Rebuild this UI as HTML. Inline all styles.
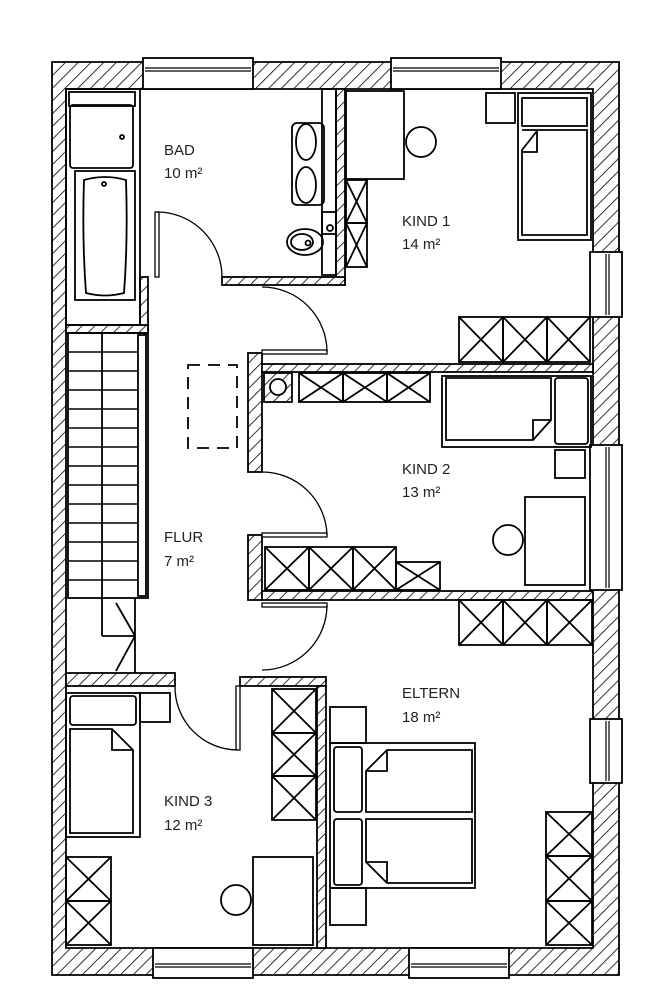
<!DOCTYPE html>
<html><head><meta charset="utf-8"><style>
html,body{margin:0;padding:0;background:#fff}
svg{display:block}
text{font-family:"Liberation Sans",sans-serif;font-size:15px;fill:#222}
</style></head><body>
<svg width="657" height="1000" viewBox="0 0 657 1000" xmlns="http://www.w3.org/2000/svg">
<defs>
<pattern id="h" patternUnits="userSpaceOnUse" width="9" height="9" patternTransform="rotate(45)">
<rect width="9" height="9" fill="#fff"/><line x1="0" y1="0" x2="0" y2="9" stroke="#000" stroke-width="1.6"/>
</pattern>
</defs>
<g stroke="#000" stroke-width="1.8" fill="none">
<!-- outer walls -->
<path fill="url(#h)" fill-rule="evenodd" d="M52 62H619V975H52Z M66 89V948H593V89Z"/>
<!-- windows top -->
<g fill="#fff">
<rect x="143" y="58" width="110" height="31"/><rect x="391" y="58" width="110" height="31"/>
<rect x="153" y="948" width="100" height="30"/><rect x="409" y="948" width="100" height="30"/>
<rect x="590" y="252" width="32" height="65"/><rect x="590" y="445" width="32" height="145"/><rect x="590" y="719" width="32" height="64"/>
</g>
<g stroke-width="1.2">
<line x1="145" y1="68" x2="251" y2="68"/><line x1="145" y1="71" x2="251" y2="71"/>
<line x1="393" y1="68" x2="499" y2="68"/><line x1="393" y1="71" x2="499" y2="71"/>
<line x1="155" y1="964" x2="251" y2="964"/><line x1="155" y1="967" x2="251" y2="967"/>
<line x1="411" y1="964" x2="507" y2="964"/><line x1="411" y1="967" x2="507" y2="967"/>
<line x1="606" y1="254" x2="606" y2="315"/><line x1="609" y1="254" x2="609" y2="315"/>
<line x1="606" y1="447" x2="606" y2="588"/><line x1="609" y1="447" x2="609" y2="588"/>
<line x1="606" y1="721" x2="606" y2="781"/><line x1="609" y1="721" x2="609" y2="781"/>
</g>
<!-- interior walls -->
<g fill="url(#h)">
<rect x="336" y="89" width="9" height="196"/>
<rect x="222" y="277" width="123" height="8"/>
<rect x="140" y="277" width="8" height="56"/>
<rect x="66" y="325" width="82" height="8"/>
<rect x="248" y="353" width="14" height="119"/>
<rect x="262" y="364" width="331" height="8"/>
<rect x="248" y="535" width="14" height="65"/>
<rect x="262" y="591" width="331" height="9"/>
<rect x="66" y="673" width="109" height="13"/>
<rect x="240" y="677" width="86" height="9"/>
<rect x="317" y="686" width="9" height="262"/>
</g>
<!-- doors -->
<g stroke-width="1.3">
<rect x="155" y="212" width="4" height="65" fill="#fff"/>
<path d="M157 212A65 65 0 0 1 222 277"/>
<rect x="262" y="350" width="65" height="4" fill="#fff"/>
<path d="M262 287A65 65 0 0 1 327 352"/>
<rect x="262" y="533" width="65" height="4" fill="#fff"/>
<path d="M262 472A65 65 0 0 1 327 535"/>
<rect x="262" y="603" width="65" height="4" fill="#fff"/>
<path d="M327 605A65 65 0 0 1 262 670"/>
<rect x="236" y="686" width="4" height="64" fill="#fff"/>
<path d="M175 686A63 63 0 0 0 238 750"/>
</g>
<!-- BAD -->
<rect x="66" y="89" width="74" height="236"/>
<rect x="69" y="92" width="66" height="14"/>
<rect x="70" y="105" width="63" height="63" rx="3"/><circle cx="122" cy="137" r="2"/>
<rect x="75" y="171" width="60" height="129"/>
<path d="M84 180Q105 174 126 180Q128 240 124 293Q105 298 86 293Q82 240 84 180Z"/>
<circle cx="104" cy="184" r="2"/>
<rect x="292" y="123" width="32" height="82" rx="5"/>
<ellipse cx="306" cy="142" rx="10" ry="18"/><ellipse cx="306" cy="185" rx="10" ry="18"/>
<rect x="322" y="89" width="14" height="186"/><rect x="322" y="212" width="14" height="22"/><circle cx="330" cy="228" r="3"/>
<ellipse cx="305" cy="242" rx="18" ry="13"/><ellipse cx="302" cy="242" rx="11" ry="8"/><circle cx="308" cy="243" r="2.5"/>
<!-- KIND1 -->
<rect x="346" y="91" width="58" height="88"/>
<circle cx="421" cy="142" r="15"/>
<rect x="486" y="93" width="29" height="30"/>
<rect x="518" y="93" width="73" height="147"/>
<rect x="522" y="98" width="65" height="28"/>
<path d="M522 130H587V235H522V150L537 131"/><path d="M537 131V152H522"/>
<rect x="346" y="180" width="21" height="43"/><path d="M346 180L367 223M367 180L346 223"/>
<rect x="346" y="223" width="21" height="44"/><path d="M346 223L367 267M367 223L346 267"/>
<g><rect x="459" y="317" width="44" height="45"/><path d="M459 317L503 362M503 317L459 362"/>
<rect x="503" y="317" width="44" height="45"/><path d="M503 317L547 362M547 317L503 362"/>
<rect x="547" y="317" width="43" height="45"/><path d="M547 317L590 362M590 317L547 362"/></g>
<!-- KIND2 -->
<rect x="264" y="373" width="28" height="29" fill="url(#h)"/><circle cx="278" cy="387" r="8" fill="#fff"/>
<rect x="299" y="373" width="44" height="29"/><path d="M299 373L343 402M343 373L299 402"/>
<rect x="343" y="373" width="44" height="29"/><path d="M343 373L387 402M387 373L343 402"/>
<rect x="387" y="373" width="43" height="29"/><path d="M387 373L430 402M430 373L387 402"/>
<rect x="442" y="376" width="149" height="71"/>
<path d="M446 378H551V420L533 440H446Z"/><path d="M533 440V420H551"/>
<rect x="555" y="378" width="33" height="66" rx="3"/>
<rect x="555" y="450" width="30" height="28"/>
<rect x="525" y="497" width="60" height="88"/>
<circle cx="508" cy="540" r="15"/>
<rect x="265" y="547" width="44" height="43"/><path d="M265 547L309 590M309 547L265 590"/>
<rect x="309" y="547" width="44" height="43"/><path d="M309 547L353 590M353 547L309 590"/>
<rect x="353" y="547" width="43" height="43"/><path d="M353 547L396 590M396 547L353 590"/>
<rect x="396" y="562" width="44" height="28"/><path d="M396 562L440 590M440 562L396 590"/>
<!-- FLUR stairs -->
<rect x="68" y="333" width="80" height="265"/>
<line x1="102" y1="333" x2="102" y2="636"/>
<rect x="138" y="335" width="8" height="261"/>
<g stroke-width="1.5">
<path d="M68 352H138M68 371H138M68 390H138M68 409H138M68 428H138M68 447H138M68 466H138M68 485H138M68 504H138M68 523H138M68 542H138M68 561H138M68 580H138"/>
</g>
<path d="M102 636H135M135 598V673M116 603L135 636L116 671"/>
<rect x="188" y="365" width="49" height="83" stroke-dasharray="12 8"/>
<!-- KIND3 -->
<rect x="66" y="693" width="74" height="144"/>
<rect x="70" y="696" width="66" height="29" rx="3"/>
<path d="M70 729H112L133 750V833H70Z"/><path d="M112 729V750H133"/>
<rect x="140" y="693" width="30" height="29"/>
<rect x="66" y="857" width="45" height="44"/><path d="M66 857L111 901M111 857L66 901"/>
<rect x="66" y="901" width="45" height="44"/><path d="M66 901L111 945M111 901L66 945"/>
<rect x="253" y="857" width="60" height="88"/>
<circle cx="236" cy="900" r="15"/>
<rect x="272" y="689" width="44" height="44"/><path d="M272 689L316 733M316 689L272 733"/>
<rect x="272" y="733" width="44" height="43"/><path d="M272 733L316 776M316 733L272 776"/>
<rect x="272" y="776" width="44" height="44"/><path d="M272 776L316 820M316 776L272 820"/>
<!-- ELTERN -->
<rect x="459" y="600" width="44" height="45"/><path d="M459 600L503 645M503 600L459 645"/>
<rect x="503" y="600" width="44" height="45"/><path d="M503 600L547 645M547 600L503 645"/>
<rect x="547" y="600" width="45" height="45"/><path d="M547 600L592 645M592 600L547 645"/>
<rect x="546" y="812" width="46" height="44"/><path d="M546 812L592 856M592 812L546 856"/>
<rect x="546" y="856" width="46" height="45"/><path d="M546 856L592 901M592 856L546 901"/>
<rect x="546" y="901" width="46" height="44"/><path d="M546 901L592 945M592 901L546 945"/>
<rect x="330" y="707" width="36" height="36"/><rect x="330" y="888" width="36" height="37"/>
<rect x="330" y="743" width="145" height="145"/>
<rect x="334" y="747" width="28" height="65" rx="3"/><rect x="334" y="819" width="28" height="66" rx="3"/>
<path d="M387 750H472V812H366V771Z"/><path d="M387 750V771H366"/>
<path d="M366 819H472V883H387L366 862Z"/><path d="M366 862H387V883"/>
</g>
<text x="164" y="155">BAD</text><text x="164" y="178">10 m²</text>
<text x="402" y="226">KIND 1</text><text x="402" y="249">14 m²</text>
<text x="402" y="474">KIND 2</text><text x="402" y="497">13 m²</text>
<text x="164" y="542">FLUR</text><text x="164" y="566">7 m²</text>
<text x="402" y="698">ELTERN</text><text x="402" y="722">18 m²</text>
<text x="164" y="806">KIND 3</text><text x="164" y="830">12 m²</text>
</svg>
</body></html>
